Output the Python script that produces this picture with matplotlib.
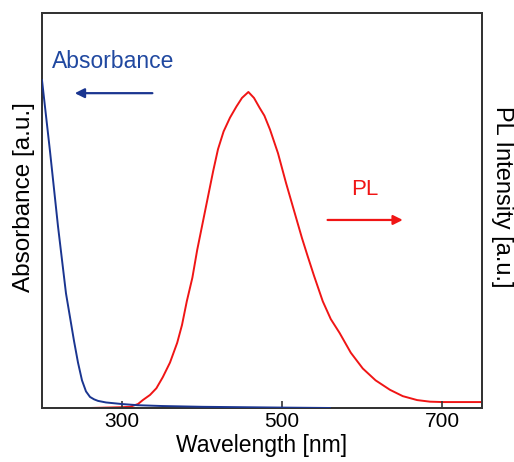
import numpy as np
import matplotlib.pyplot as plt

# Absorbance spectrum (normalised)
abs_wl = [200, 205, 210, 215, 220, 225, 230, 235, 240, 245, 250, 255, 260, 265,
          270, 280, 290, 300, 320, 350, 400, 450, 500, 560]
abs_val = [0.83, 0.74, 0.65, 0.555, 0.46, 0.375, 0.29, 0.23, 0.17, 0.115, 0.07,
           0.042, 0.028, 0.022, 0.018, 0.014, 0.012, 0.01, 0.007, 0.005, 0.003,
           0.002, 0.001, 0.0]

# PL spectrum
pl_wl = [260, 280, 300, 310, 320, 326, 335, 343, 351, 360, 369, 375, 381, 388,
         394, 400, 406, 414, 420, 427, 435, 443, 450, 458, 465, 472, 478, 485,
         495, 505, 515, 525, 532, 540, 551, 561, 572, 586, 601, 617, 635, 651,
         669, 685, 701, 750]
pl_val = [0.0, 0.001, 0.002, 0.003, 0.01, 0.02, 0.033, 0.05, 0.078, 0.115,
          0.165, 0.21, 0.27, 0.33, 0.40, 0.46, 0.52, 0.60, 0.655, 0.70, 0.735,
          0.763, 0.785, 0.80, 0.785, 0.76, 0.74, 0.705, 0.645, 0.57, 0.50, 0.43,
          0.385, 0.335, 0.27, 0.225, 0.19, 0.14, 0.10, 0.07, 0.046, 0.03, 0.02,
          0.016, 0.015, 0.015]

xticks = [300, 500, 700]

blue = "#1a3590"
red = "#f01515"

plt.rcParams['font.family'] = ['Liberation Sans', 'DejaVu Sans']

fig = plt.figure(figsize=(5.14, 4.62), dpi=100)
ax = fig.add_axes([0.0817, 0.1169, 0.856, 0.855])
ax2 = ax.twinx()

ax.plot(abs_wl, abs_val, color=blue, lw=1.4, zorder=3)
ax2.plot(pl_wl, pl_val, color=red, lw=1.4)
ax.set_zorder(ax2.get_zorder() + 1)
ax.patch.set_visible(False)

for a in (ax, ax2):
    a.set_xlim(200, 750)
    a.set_ylim(0, 1)
    a.set_yticks([])
    for s in a.spines.values():
        s.set_linewidth(1.3)
        s.set_color("#333333")

ax.set_xticks(xticks)
ax.tick_params(axis='x', direction='in', length=5, width=1.2, labelsize=15,
               pad=3, color="#333333")
ax.set_xlabel("Wavelength [nm]", fontsize=16.5)
ax.xaxis.set_label_coords(0.5, -0.066)
ax.set_ylabel("Absorbance [a.u.]", fontsize=17.5, va='center')
ax.yaxis.set_label_coords(-0.04, 0.535)
ax2.set_ylabel("PL Intensity [a.u.]", fontsize=17, rotation=-90, va='center')
ax2.yaxis.set_label_coords(1.045, 0.535)

trans = ax.get_xaxis_transform()
ax.text(212, 0.876, "Absorbance", color="#2048a0", fontsize=16.5,
        va='center', ha='left', transform=trans)
ax.annotate("", xy=(241, 0.797), xytext=(338, 0.797), xycoords=trans,
            textcoords=trans,
            arrowprops=dict(arrowstyle="-|>", color=blue, lw=1.6,
                            mutation_scale=14, shrinkA=0, shrinkB=0))
ax.text(587, 0.552, "PL", color=red, fontsize=16, va='center', ha='left',
        transform=trans)
ax.annotate("", xy=(651, 0.476), xytext=(557, 0.476), xycoords=trans,
            textcoords=trans,
            arrowprops=dict(arrowstyle="-|>", color=red, lw=1.6,
                            mutation_scale=14, shrinkA=0, shrinkB=0))

fig.savefig("out.png", dpi=100)
